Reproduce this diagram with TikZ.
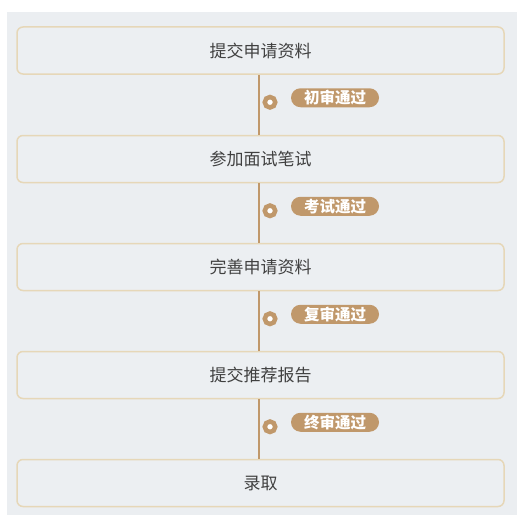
\documentclass[tikz,border=0pt]{standalone}
\usepackage{fontspec}
\setmainfont{Noto Sans CJK SC}
\definecolor{bggray}{HTML}{EBEEF1}
\definecolor{boxfill}{HTML}{ECEFF2}
\definecolor{boxline}{HTML}{E6D7B8}
\definecolor{tan}{HTML}{C0986B}
\definecolor{textgray}{HTML}{404040}

\begin{document}
\begin{tikzpicture}[x=1pt,y=-1pt,
    stepbox/.style={draw=boxline,line width=1.5pt,fill=boxfill,rounded corners=6pt,
      minimum width=487pt,minimum height=47pt,text=textgray,font=\fontsize{17}{19}\selectfont},
    tag/.style={fill=tan,text=white,rounded corners=9.5pt,minimum width=88pt,
      minimum height=19pt,inner sep=0pt,font=\fontsize{15.5}{17}\selectfont\bfseries},
    dot/.style={circle,draw=tan,line width=4.5pt,fill=white,minimum size=10.5pt,inner sep=0pt}]
        \useasboundingbox (0,0) rectangle (522,527);
        \fill[bggray] (7,12) rectangle (517,515);
        % steps
        \node[stepbox] (b1) at (260.5,50.5) {提交申请资料};
        \node[stepbox] (b2) at (260.5,159) {参加面试笔试};
        \node[stepbox] (b3) at (260.5,267) {完善申请资料};
        \node[stepbox] (b4) at (260.5,375) {提交推荐报告};
        \node[stepbox] (b5) at (260.5,483) {录取};
        % connectors with tags
        \foreach \a/\b/\t in {b1/b2/初审通过,b2/b3/考试通过,b3/b4/复审通过,b4/b5/终审通过}{
            \draw[tan,line width=1.5pt] (\a.south -| 259,0) -- (\b.north -| 259,0);
            \node[dot] (d\a) at ([xshift=9.5pt,yshift=-27.5pt]\a.south) {};
            \node[tag] (t\a) at ([xshift=74.5pt,yshift=-23pt]\a.south) {\t};
        }
\end{tikzpicture}
\end{document}
